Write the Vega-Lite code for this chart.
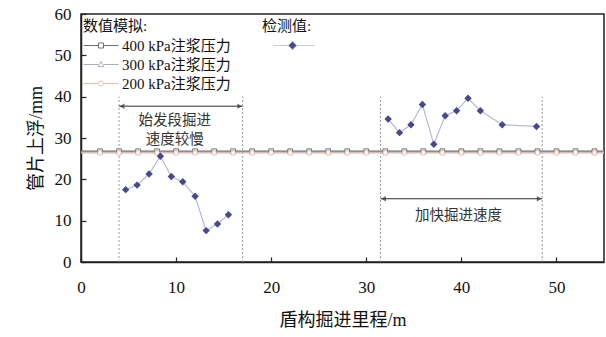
{
  "$schema": "https://vega.github.io/schema/vega-lite/v6.json",
  "width": 523,
  "height": 248,
  "autosize": {"type": "none"},
  "padding": {"left": 81, "top": 14, "right": 2, "bottom": 75},
  "background": "white",
  "config": {
    "font": "Liberation Serif, Noto Sans CJK SC",
    "view": {"stroke": "#222", "strokeWidth": 1.5},
    "axis": {
      "domainColor": "#222", "domainWidth": 1.5, "tickColor": "#222", "tickWidth": 1.2,
      "labelFont": "Liberation Serif", "labelFontSize": 17, "labelColor": "#111",
      "titleFont": "Liberation Serif, Noto Sans CJK SC", "titleFontSize": 18, "titleFontWeight": "normal", "titleColor": "#111",
      "grid": false
    },
    "legend": {
      "titleFont": "Liberation Serif, Noto Sans CJK SC", "titleFontSize": 15, "titleFontWeight": "normal", "titleColor": "#111",
      "labelFont": "Liberation Serif, Noto Sans CJK SC", "labelFontSize": 15, "labelColor": "#111",
      "padding": 0
    }
  },
  "datasets": {
    "sim": [
      {"x": 0, "p400": 26.8, "p300": 26.6, "p200": 26.4},
      {"x": 2, "p400": 26.8, "p300": 26.6, "p200": 26.4},
      {"x": 4, "p400": 26.8, "p300": 26.6, "p200": 26.4},
      {"x": 6, "p400": 26.8, "p300": 26.6, "p200": 26.4},
      {"x": 8, "p400": 26.8, "p300": 26.6, "p200": 26.4},
      {"x": 10, "p400": 26.8, "p300": 26.6, "p200": 26.4},
      {"x": 12, "p400": 26.8, "p300": 26.6, "p200": 26.4},
      {"x": 14, "p400": 26.8, "p300": 26.6, "p200": 26.4},
      {"x": 16, "p400": 26.8, "p300": 26.6, "p200": 26.4},
      {"x": 18, "p400": 26.8, "p300": 26.6, "p200": 26.4},
      {"x": 20, "p400": 26.8, "p300": 26.6, "p200": 26.4},
      {"x": 22, "p400": 26.8, "p300": 26.6, "p200": 26.4},
      {"x": 24, "p400": 26.8, "p300": 26.6, "p200": 26.4},
      {"x": 26, "p400": 26.8, "p300": 26.6, "p200": 26.4},
      {"x": 28, "p400": 26.8, "p300": 26.6, "p200": 26.4},
      {"x": 30, "p400": 26.8, "p300": 26.6, "p200": 26.4},
      {"x": 32, "p400": 26.8, "p300": 26.6, "p200": 26.4},
      {"x": 34, "p400": 26.8, "p300": 26.6, "p200": 26.4},
      {"x": 36, "p400": 26.8, "p300": 26.6, "p200": 26.4},
      {"x": 38, "p400": 26.8, "p300": 26.6, "p200": 26.4},
      {"x": 40, "p400": 26.8, "p300": 26.6, "p200": 26.4},
      {"x": 42, "p400": 26.8, "p300": 26.6, "p200": 26.4},
      {"x": 44, "p400": 26.8, "p300": 26.6, "p200": 26.4},
      {"x": 46, "p400": 26.8, "p300": 26.6, "p200": 26.4},
      {"x": 48, "p400": 26.8, "p300": 26.6, "p200": 26.4},
      {"x": 50, "p400": 26.8, "p300": 26.6, "p200": 26.4},
      {"x": 52, "p400": 26.8, "p300": 26.6, "p200": 26.4},
      {"x": 54, "p400": 26.8, "p300": 26.6, "p200": 26.4},
      {"x": 55, "p400": 26.8, "p300": 26.6, "p200": 26.4}
    ],
    "meas": [
      {"grp": 1, "x": 4.7, "y": 17.5}, {"grp": 1, "x": 5.9, "y": 18.6}, {"grp": 1, "x": 7.16, "y": 21.3}, {"grp": 1, "x": 8.35, "y": 25.6},
      {"grp": 1, "x": 9.5, "y": 20.7}, {"grp": 1, "x": 10.7, "y": 19.4}, {"grp": 1, "x": 12.0, "y": 15.9}, {"grp": 1, "x": 13.16, "y": 7.6},
      {"grp": 1, "x": 14.35, "y": 9.2}, {"grp": 1, "x": 15.5, "y": 11.45},
      {"grp": 2, "x": 32.3, "y": 34.6}, {"grp": 2, "x": 33.5, "y": 31.3}, {"grp": 2, "x": 34.7, "y": 33.2}, {"grp": 2, "x": 35.9, "y": 38.1},
      {"grp": 2, "x": 37.1, "y": 28.5}, {"grp": 2, "x": 38.3, "y": 35.4}, {"grp": 2, "x": 39.5, "y": 36.6}, {"grp": 2, "x": 40.7, "y": 39.6},
      {"grp": 2, "x": 42.0, "y": 36.6}, {"grp": 2, "x": 44.3, "y": 33.2}, {"grp": 2, "x": 47.9, "y": 32.8}
    ],
    "vlines": [{"x": 4}, {"x": 17}, {"x": 31.5}, {"x": 48.5}],
    "arrows": [{"x1": 4, "x2": 17, "y": 37.7}, {"x1": 31.5, "x2": 48.5, "y": 15.3}],
    "notes": [
      {"x": 9.85, "y": 34.1, "t": "始发段掘进"},
      {"x": 9.85, "y": 29.4, "t": "速度较慢"},
      {"x": 39.7, "y": 11.2, "t": "加快掘进速度"}
    ]
  },
  "layer": [
    {
      "data": {"name": "vlines"},
      "mark": {"type": "rule", "color": "#999", "strokeDash": [2, 2], "strokeWidth": 1},
      "encoding": {
        "x": {"field": "x", "type": "quantitative", "scale": {"domain": [0, 55], "nice": false},
          "axis": {"values": [0, 10, 20, 30, 40, 50], "tickSize": -5, "labelPadding": 22, "title": "盾构掘进里程/m", "titlePadding": 16, "labelFlush": false}},
        "y": {"datum": 0, "type": "quantitative", "scale": {"domain": [0, 60], "nice": false},
          "axis": {"values": [0, 10, 20, 30, 40, 50, 60], "tickSize": -5, "labelPadding": 15, "title": "管片上浮/mm", "titlePadding": 9}},
        "y2": {"datum": 40}
      }
    },
    {
      "data": {"name": "arrows"},
      "mark": {"type": "rule", "color": "#333", "strokeWidth": 1},
      "encoding": {
        "x": {"field": "x1", "type": "quantitative"},
        "x2": {"field": "x2"},
        "y": {"field": "y", "type": "quantitative"}
      }
    },
    {
      "data": {"name": "arrows"},
      "mark": {"type": "point", "shape": "triangle-left", "filled": true, "color": "#333", "size": 30, "xOffset": 3},
      "encoding": {
        "x": {"field": "x1", "type": "quantitative"},
        "y": {"field": "y", "type": "quantitative"}
      }
    },
    {
      "data": {"name": "arrows"},
      "mark": {"type": "point", "shape": "triangle-right", "filled": true, "color": "#333", "size": 30, "xOffset": -3},
      "encoding": {
        "x": {"field": "x2", "type": "quantitative"},
        "y": {"field": "y", "type": "quantitative"}
      }
    },
    {
      "data": {"name": "notes"},
      "mark": {"type": "text", "font": "Noto Sans CJK SC", "fontSize": 14.5, "color": "#333"},
      "encoding": {
        "x": {"field": "x", "type": "quantitative"},
        "y": {"field": "y", "type": "quantitative"},
        "text": {"field": "t"}
      }
    },
    {
      "data": {"name": "sim"},
      "transform": [
        {"fold": ["p400", "p300", "p200"], "as": ["key", "v"]},
        {"lookup": "key", "from": {"data": {"values": [
          {"key": "p400", "series": "400 kPa注浆压力"},
          {"key": "p300", "series": "300 kPa注浆压力"},
          {"key": "p200", "series": "200 kPa注浆压力"}]}, "key": "key", "fields": ["series"]}}
      ],
      "mark": {"type": "line", "strokeWidth": 1.3},
      "encoding": {
        "x": {"field": "x", "type": "quantitative"},
        "y": {"field": "v", "type": "quantitative"},
        "color": {
          "field": "series", "type": "nominal",
          "scale": {"domain": ["400 kPa注浆压力", "300 kPa注浆压力", "200 kPa注浆压力"], "range": ["#6f6f6f", "#a9afbf", "#e6b9aa"]},
          "legend": {
            "title": "数值模拟:", "orient": "none", "legendX": 2, "legendY": 5,
            "symbolSize": 196, "symbolStrokeWidth": 1, "symbolFillColor": "white", "labelOffset": 24, "rowPadding": 3, "titlePadding": 4,
            "symbolType": {"expr": "datum.value === '400 kPa注浆压力' ? 'M-1,0H1.14M1.86,0H4M1.14,-0.36H1.86V0.36H1.14Z' : datum.value === '300 kPa注浆压力' ? 'M-1,0H1.1M1.9,0H4M1.5,-0.42L1.92,0.3H1.08Z' : 'M-1,0H1.14M1.86,0H4M1.14,0A0.36,0.36 0 1,0 1.86,0A0.36,0.36 0 1,0 1.14,0Z'"}
          }
        },
        "order": {"field": "key", "sort": "descending"}
      }
    },
    {
      "data": {"name": "sim"},
      "transform": [
        {"filter": "datum.x > 0 && datum.x < 55"},
        {"fold": ["p400", "p300", "p200"], "as": ["key", "v"]},
        {"lookup": "key", "from": {"data": {"values": [
          {"key": "p400", "series": "400 kPa注浆压力", "mk": "400"},
          {"key": "p300", "series": "300 kPa注浆压力", "mk": "300"},
          {"key": "p200", "series": "200 kPa注浆压力", "mk": "200"}]}, "key": "key", "fields": ["series", "mk"]}}
      ],
      "mark": {"type": "point", "filled": false, "fill": "white", "fillOpacity": 1, "size": 22, "strokeWidth": 1, "opacity": 1},
      "encoding": {
        "x": {"field": "x", "type": "quantitative"},
        "y": {"field": "v", "type": "quantitative"},
        "color": {"field": "series", "type": "nominal", "legend": null},
        "shape": {"field": "mk", "type": "nominal", "scale": {"domain": ["400", "300", "200"], "range": ["square", "triangle-up", "circle"]}, "legend": null}
      }
    },
    {
      "data": {"name": "meas"},
      "transform": [{"calculate": "'检测值'", "as": "src"}],
      "mark": {"type": "line", "color": "#b8b8d2", "strokeWidth": 1.2},
      "encoding": {
        "x": {"field": "x", "type": "quantitative"},
        "y": {"field": "y", "type": "quantitative"},
        "detail": {"field": "grp", "type": "nominal"},
        "strokeDash": {
          "field": "src", "type": "nominal", "scale": {"range": [[1, 0]]},
          "legend": {
            "title": "检测值:", "orient": "none", "legendX": 181, "legendY": 5,
            "symbolSize": 196, "labelExpr": "''", "titlePadding": 4,
            "symbolType": "M0.57,0H2.7M3.86,0H6.5M3.29,-0.6L3.9,0L3.29,0.6L2.68,0Z",
            "symbolFillColor": "#4a4a8c", "symbolStrokeColor": "#b8b8d2", "symbolStrokeWidth": 1
          }
        }
      }
    },
    {
      "data": {"name": "meas"},
      "mark": {"type": "point", "shape": "diamond", "filled": true, "color": "#48488a", "size": 55, "opacity": 1},
      "encoding": {
        "x": {"field": "x", "type": "quantitative"},
        "y": {"field": "y", "type": "quantitative"}
      }
    }
  ]
}
